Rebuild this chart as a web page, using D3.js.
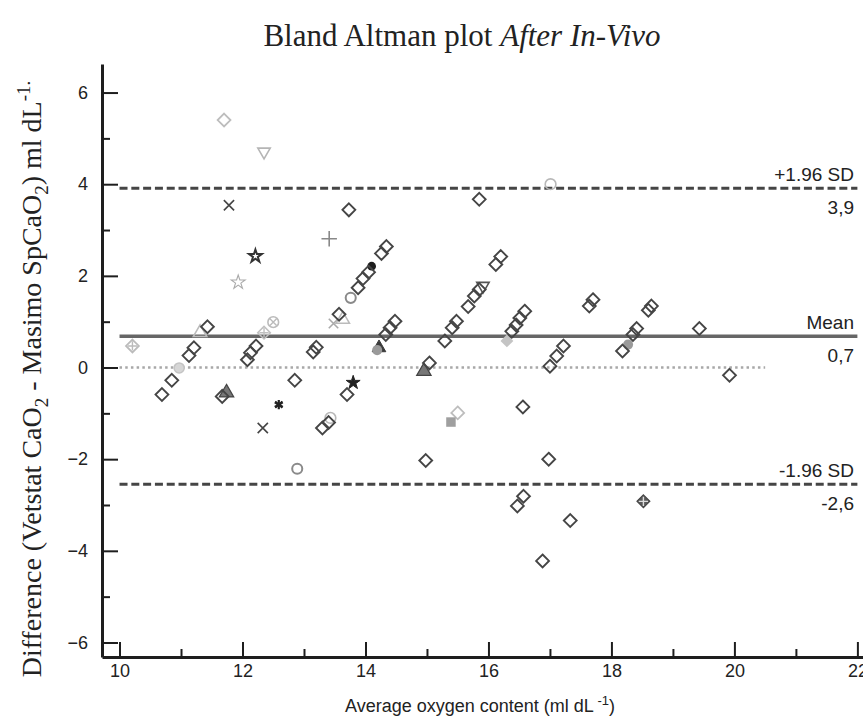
<!DOCTYPE html>
<html>
<head>
<meta charset="utf-8">
<script src="https://cdn.jsdelivr.net/npm/d3@7"></script>
<style>
  body { margin: 0; background: #fff; }
  text { fill: #222; }
</style>
</head>
<body>
<svg id="chart" width="863" height="720"></svg>
<script>
// Bland Altman after in-vivo: x = average oxygen content, y = Vetstat - Masimo difference
// subject code picks the marker (most points are the plain diamond, "D")
var avgContent = [
  10.69, 10.85, 11.13, 11.21, 11.43, 11.67, 12.08, 12.13, 12.22, 12.85,
  13.15, 13.20, 13.30, 13.40, 13.57, 13.70, 13.73, 13.88, 13.96, 14.05,
  14.26, 14.34, 14.33, 14.40, 14.48, 14.98, 15.04, 15.29, 15.41, 15.48,
  15.67, 15.77, 15.85, 15.85, 16.12, 16.20, 16.38, 16.45, 16.51, 16.59,
  16.47, 16.57, 16.56, 16.88, 16.98, 17.00, 17.11, 17.22, 17.33, 17.64,
  17.70, 18.18, 18.35, 18.41, 18.60, 18.65, 19.43, 19.92,
  11.70, 15.50, 12.35, 11.78, 12.33, 13.41, 13.48, 12.21, 11.93, 13.76,
  12.89, 14.10, 17.01, 13.43, 14.22, 14.19, 18.27, 14.95, 11.74, 15.91,
  16.30, 13.80, 15.39, 18.52, 10.21, 10.97, 11.31, 13.63, 12.35, 12.50,
  12.59
];
var diffContent = [
  -0.59, -0.28, 0.26, 0.43, 0.89, -0.63, 0.17, 0.32, 0.47, -0.28,
  0.34, 0.44, -1.32, -1.20, 1.16, -0.59, 3.44, 1.74, 1.94, 2.08,
  2.49, 2.64, 0.72, 0.87, 1.01, -2.03, 0.10, 0.58, 0.87, 1.01,
  1.33, 1.56, 1.70, 3.67, 2.25, 2.42, 0.79, 0.93, 1.08, 1.23,
  -3.02, -2.81, -0.86, -4.22, -2.00, 0.03, 0.25, 0.47, -3.34, 1.34,
  1.48, 0.36, 0.72, 0.85, 1.25, 1.34, 0.85, -0.17,
  5.40, -0.99, 4.71, 3.54, -1.32, 2.81, 0.96, 2.43, 1.86, 1.52,
  -2.21, 2.21, 4.00, -1.10, 0.43, 0.38, 0.50, -0.08, -0.55, 1.78,
  0.58, -0.33, -1.19, -2.92, 0.47, -0.01, 0.76, 1.05, 0.76, 0.99,
  -0.81
];
var subject = [
  "D","D","D","D","D","D","D","D","D","D",
  "D","D","D","D","D","D","D","D","D","D",
  "D","D","D","D","D","D","D","D","D","D",
  "D","D","D","D","D","D","D","D","D","D",
  "D","D","D","D","D","D","D","D","D","D",
  "D","D","D","D","D","D","D","D",
  "a","a","b","c","c","d","e","f","g","h",
  "h","i","j","j","k","l","l","m","m","n",
  "o","p","q","r","s","t","u","u","v","w",
  "x"
];

var xTicks = [10, 12, 14, 16, 18, 20, 22];
var xMinorTicks = [11, 13, 15, 17, 19, 21];
var yTicks = [-6, -4, -2, 0, 2, 4, 6];
var yMinorTicks = [-5, -3, -1, 1, 3, 5];

// agreement lines
var limitValues = [3.91, 0.68, -2.55];
var limitNames = ["+1.96 SD", "Mean", "-1.96 SD"];
var limitText = ["3,9", "0,7", "-2,6"];
var lineSpan = [10, 22];
var zeroSpan = [10, 20.5];

// marker look for each subject code
var markerStyle = {
  D: {type: d3.symbolDiamond2, size: 105, fill: "none", stroke: "#454545", sw: 1.9},
  a: {type: d3.symbolDiamond2, size: 105, fill: "none", stroke: "#bdbdbd", sw: 1.8},
  b: {type: d3.symbolTriangle2, size: 110, fill: "none", stroke: "#b5b5b5", sw: 1.6, rot: 180},
  c: {type: d3.symbolX, size: 70, fill: "none", stroke: "#444", sw: 1.6},
  d: {type: d3.symbolPlus, size: 80, fill: "none", stroke: "#888", sw: 1.6},
  e: {type: d3.symbolX, size: 60, fill: "none", stroke: "#aaa", sw: 1.6},
  f: {type: d3.symbolStar, size: 50, fill: "none", stroke: "#333", sw: 2},
  g: {type: d3.symbolStar, size: 60, fill: "none", stroke: "#aaa", sw: 1.1},
  h: {type: d3.symbolCircle, size: 80, fill: "none", stroke: "#8a8a8a", sw: 2},
  i: {type: d3.symbolCircle, size: 60, fill: "#1e1e1e", stroke: "none", sw: 0},
  j: {type: d3.symbolCircle, size: 90, fill: "none", stroke: "#b8b8b8", sw: 1.6},
  k: {type: d3.symbolTriangle, size: 80, fill: "#3a3a3a", stroke: "#3a3a3a", sw: 1},
  l: {type: d3.symbolCircle, size: 80, fill: "#9a9a9a", stroke: "none", sw: 0},
  m: {type: d3.symbolTriangle, size: 90, fill: "#777", stroke: "#444", sw: 1.2},
  n: {type: d3.symbolTriangle2, size: 110, fill: "none", stroke: "#555", sw: 1.6, rot: 180},
  o: {type: d3.symbolDiamond2, size: 105, fill: "#c4c4c4", stroke: "none", sw: 0},
  p: {type: d3.symbolStar, size: 60, fill: "#222", stroke: "#222", sw: 1},
  q: {type: d3.symbolSquare, size: 90, fill: "#9f9f9f", stroke: "none", sw: 0},
  r: {type: d3.symbolDiamond2, size: 105, fill: "#5a5a5a", stroke: "#444", sw: 1.2, inner: d3.symbolPlus, innerStroke: "#ddd"},
  s: {type: d3.symbolDiamond2, size: 105, fill: "none", stroke: "#bbb", sw: 1.8, inner: d3.symbolPlus, innerStroke: "#bbb"},
  t: {type: d3.symbolCircle, size: 80, fill: "#d6d6d6", stroke: "#c4c4c4", sw: 1.5},
  u: {type: d3.symbolTriangle, size: 80, fill: "none", stroke: "#bbb", sw: 1.5},
  v: {type: d3.symbolSquare, size: 80, fill: "none", stroke: "#c0c0c0", sw: 1.5, rot: 45, inner: d3.symbolX, innerStroke: "#c0c0c0"},
  w: {type: d3.symbolCircle, size: 90, fill: "none", stroke: "#bbb", sw: 1.6, inner: d3.symbolX, innerStroke: "#bbb"},
  x: {type: d3.symbolAsterisk, size: 60, fill: "none", stroke: "#222", sw: 2.2, inner: d3.symbolX, innerStroke: "#222"}
};

var points = avgContent.map(function(v, i) {
  return {avg: v, diff: diffContent[i], subject: subject[i]};
});

var svg = d3.select("#chart");
var sansFont = "'Liberation Sans', Arial, sans-serif";
var serifFont = "'Liberation Serif', 'Times New Roman', serif";

var x = d3.scaleLinear().domain([9.715, 22.14]).range([102, 866]);
var y = d3.scaleLinear().domain([-6.317, 6.623]).range([657, 64]);

// title
var title = svg.append("text")
  .attr("x", 462).attr("y", 46)
  .attr("text-anchor", "middle")
  .style("font-family", serifFont).style("font-size", "31px");
title.append("tspan").text("Bland Altman plot ");
title.append("tspan").style("font-style", "italic").text("After In-Vivo");

// y axis title
var ylab = svg.append("text")
  .attr("transform", "translate(41,379) rotate(-90)")
  .attr("text-anchor", "middle")
  .style("font-family", serifFont).style("font-size", "28px");
ylab.append("tspan").text("Difference (Vetstat CaO");
ylab.append("tspan").attr("dy", 7).style("font-size", "19px").text("2");
ylab.append("tspan").attr("dy", -7).text(" - Masimo SpCaO");
ylab.append("tspan").attr("dy", 7).style("font-size", "19px").text("2");
ylab.append("tspan").attr("dy", -7).text(") ml dL");
ylab.append("tspan").attr("dy", -11).style("font-size", "19px").text("-1.");

// x axis title
var xlab = svg.append("text")
  .attr("x", 480).attr("y", 712)
  .attr("text-anchor", "middle")
  .style("font-family", sansFont).style("font-size", "18px");
xlab.append("tspan").text("Average oxygen content (ml dL");
xlab.append("tspan").attr("dy", -7).style("font-size", "13px").text(" -1");
xlab.append("tspan").attr("dy", 7).text(")");

// reference lines
svg.append("line")
  .attr("x1", x(zeroSpan[0])).attr("x2", x(zeroSpan[1]))
  .attr("y1", y(0)).attr("y2", y(0))
  .attr("stroke", "#a8a8a8").attr("stroke-width", 2.5)
  .attr("stroke-dasharray", "2.5,3.2");

svg.selectAll("line.limit").data(limitValues).enter().append("line")
  .attr("class", "limit")
  .attr("x1", x(lineSpan[0])).attr("x2", x(lineSpan[1]))
  .attr("y1", function(d) { return y(d); })
  .attr("y2", function(d) { return y(d); })
  .attr("stroke", function(d, i) { return i == 1 ? "#666" : "#454545"; })
  .attr("stroke-width", function(d, i) { return i == 1 ? 3.5 : 3; })
  .attr("stroke-dasharray", function(d, i) { return i == 1 ? null : "8,3.8"; });

svg.selectAll("text.limitName").data(limitValues).enter().append("text")
  .attr("class", "limitName")
  .attr("x", 854).attr("y", function(d) { return y(d) - 7; })
  .attr("text-anchor", "end")
  .style("font-family", sansFont).style("font-size", "19px")
  .text(function(d, i) { return limitNames[i]; });

svg.selectAll("text.limitVal").data(limitValues).enter().append("text")
  .attr("class", "limitVal")
  .attr("x", 854).attr("y", function(d) { return y(d) + 26; })
  .attr("text-anchor", "end")
  .style("font-family", sansFont).style("font-size", "19px")
  .text(function(d, i) { return limitText[i]; });

// markers: others first, plain diamonds on top
var order = points.filter(function(d) { return d.subject != "D"; })
  .concat(points.filter(function(d) { return d.subject == "D"; }));

var marks = svg.append("g").attr("class", "marks")
  .selectAll("g").data(order).enter().append("g")
  .attr("transform", function(d) {
    var s = markerStyle[d.subject];
    return "translate(" + x(d.avg) + "," + y(d.diff) + ")" + (s.rot ? " rotate(" + s.rot + ")" : "");
  });

marks.append("path")
  .attr("d", function(d) {
    var s = markerStyle[d.subject];
    return d3.symbol().type(s.type).size(s.size)();
  })
  .attr("fill", function(d) { return markerStyle[d.subject].fill; })
  .attr("stroke", function(d) { return markerStyle[d.subject].stroke; })
  .attr("stroke-width", function(d) { return markerStyle[d.subject].sw; });

marks.filter(function(d) { return markerStyle[d.subject].inner; })
  .append("path")
  .attr("d", function(d) {
    return d3.symbol().type(markerStyle[d.subject].inner).size(30)();
  })
  .attr("fill", "none")
  .attr("stroke", function(d) { return markerStyle[d.subject].innerStroke; })
  .attr("stroke-width", 1.4);

// axes, ticks pointing into the plot
var yAxis = svg.append("g").attr("transform", "translate(102,0)")
  .call(d3.axisLeft(y).tickValues(yTicks).tickSize(-16).tickSizeOuter(0).tickPadding(14)
    .tickFormat(d3.format("d")));
svg.append("g").attr("transform", "translate(102,0)").attr("class", "minor")
  .call(d3.axisLeft(y).tickValues(yMinorTicks).tickSize(-8).tickFormat(""));

var xAxis = svg.append("g").attr("transform", "translate(0,657)")
  .call(d3.axisBottom(x).tickValues(xTicks).tickSize(-15).tickSizeOuter(0).tickPadding(7)
    .tickFormat(d3.format("d")));
svg.append("g").attr("transform", "translate(0,657)").attr("class", "minor")
  .call(d3.axisBottom(x).tickValues(xMinorTicks).tickSize(-8).tickFormat(""));

svg.selectAll(".minor .domain").remove();
svg.selectAll(".domain").attr("stroke", "#1e1e1e").attr("stroke-width", 3);
svg.selectAll(".tick line").attr("stroke", "#1e1e1e").attr("stroke-width", 2);
svg.selectAll(".tick text")
  .style("font-family", sansFont).style("font-size", "18px").attr("fill", "#222");
</script>
</body>
</html>
